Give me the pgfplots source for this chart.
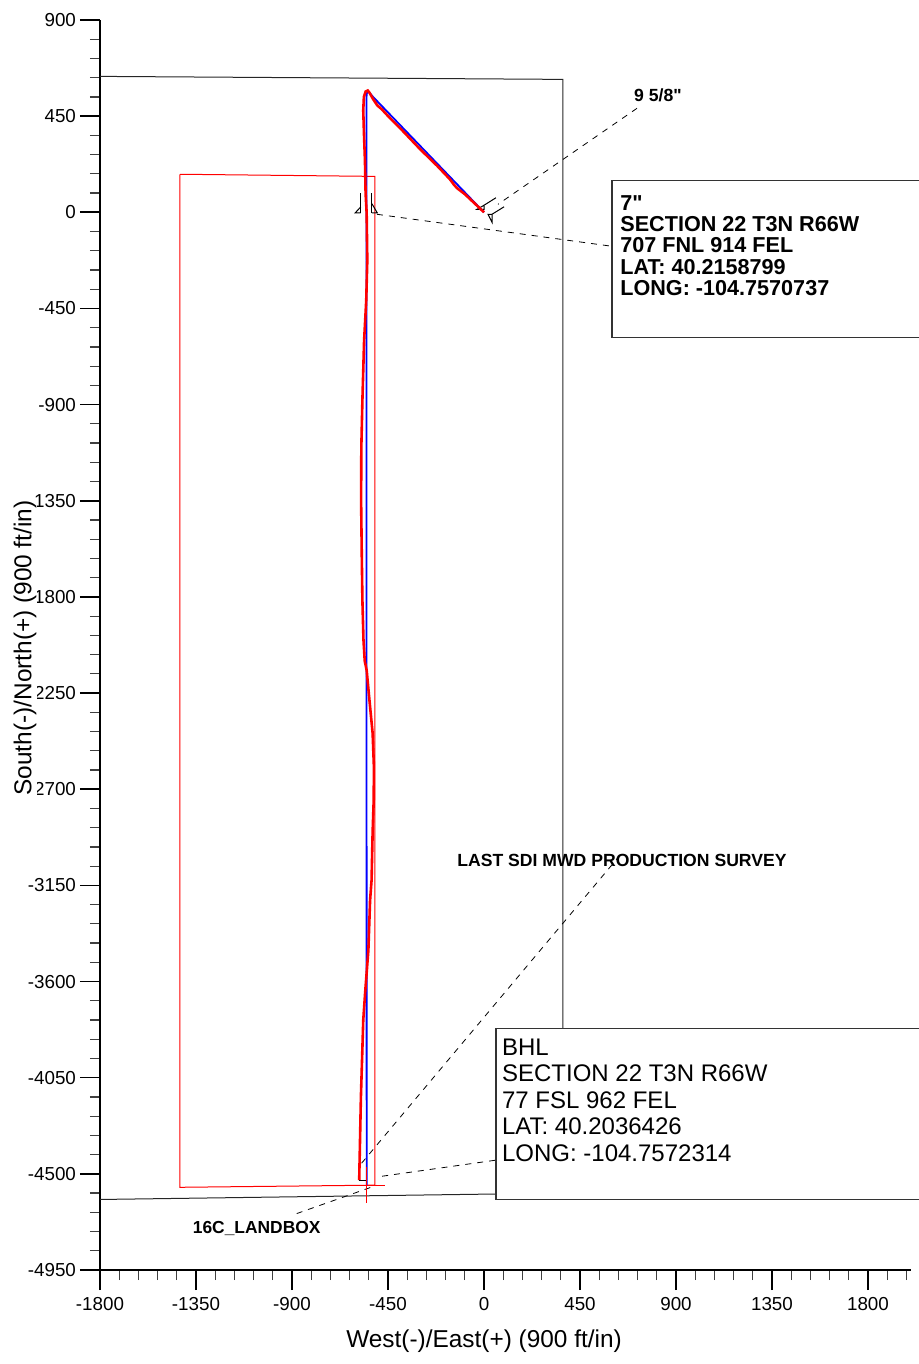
\documentclass[border=0pt]{standalone}
\usepackage{fontspec}
\setmainfont{Liberation Sans}
\usepackage{pgfplots}
\pgfplotsset{compat=1.18}
\newcommand\dq{\XeTeXglyph\numexpr\XeTeXcharglyph"22\relax}
\begin{document}
\begin{tikzpicture}
\useasboundingbox (0,0) rectangle (459.5pt,682pt);
\clip (0,0) rectangle (459.5pt,682pt);
\begin{axis}[
  at={(50pt,47pt)}, anchor=south west,
  scale only axis, width=405.33pt, height=625pt,
  xmin=-1800, xmax=2000, ymin=-4950, ymax=900,
  axis x line=bottom, axis y line=left,
  axis line style={-, line width=1pt, black},
  clip=false,
  xtick={-1800,-1350,-900,-450,0,450,900,1350,1800},
  ytick={900,450,0,-450,-900,-1350,-1800,-2250,-2700,-3150,-3600,-4050,-4500,-4950},
  minor xtick={-1800,-1710,...,1980},
  minor ytick={-4950,-4860,...,900},
  tick align=outside,
  major tick length=10pt, minor tick length=5pt,
  every tick/.style={black, line width=0.8pt},
  minor tick style={black!75, line width=0.6pt},
  tick label style={font=\fontsize{9.4}{11}\selectfont},
  yticklabel style={xshift=1.5pt},
  /pgf/number format/assume math mode=true,
  /pgf/number format/1000 sep={},
  xlabel={West(-)/East(+) (900 ft/in)},
  ylabel={South(-)/North(+) (900 ft/in)},
  label style={font=\fontsize{12.2}{14}\selectfont},
  xlabel style={at={(rel axis cs:0.4737,0)}, anchor=center, yshift=-35.5pt},
  ylabel style={at={(rel axis cs:0,0.4976)}, anchor=center, rotate=0, yshift=37.5pt, xshift=0pt, fill=white, inner sep=0.5pt},
]
% section box (black)
\addplot[black!85, line width=0.5pt] coordinates {(-1800,636) (370,622) (370,-4590) (-1800,-4620)};
% landbox (red)
\addplot[red, line width=0.5pt] coordinates {(-1425,178) (-511,168) (-511,-4553) (-1425,-4563) (-1425,178)};
% leader lines
\addplot[black, dashed, line width=0.4pt] coordinates {(717.2,486.7) (65.6,37.4)};
\addplot[black, dashed, line width=0.4pt] coordinates {(-501.6,-9.4) (600,-159.1)};
\addplot[black, dashed, line width=0.4pt] coordinates {(637.5,-3009) (-585.9,-4464.6)};
\addplot[black, dashed, line width=0.4pt] coordinates {(51.6,-4436.5) (-503,-4514.7)};
\addplot[black, dashed, line width=0.4pt] coordinates {(-878,-4686) (-503,-4553.5)};
% casing symbols 7"
\addplot[black, line width=0.5pt] coordinates {(-578,89) (-578,-3)};
\addplot[black, line width=0.5pt] coordinates {(-578,25) (-604,-3) (-578,-3)};
\addplot[black, line width=0.5pt] coordinates {(-526,89) (-526,-3)};
\addplot[black, line width=0.5pt] coordinates {(-526,41) (-500,-3) (-526,-3)};
% casing symbols 9 5/8"
\addplot[black, line width=0.5pt] coordinates {(0,32.8) (56,68)};
\addplot[black, line width=0.5pt] coordinates {(0,32.8) (-33,14) (0,14) (0,32.8)};
\addplot[black, line width=0.5pt] coordinates {(37.5,-9.4) (94,25.7)};
\addplot[black, line width=0.5pt] coordinates {(37.5,-9.4) (18.8,-9.4) (37.5,-46.8) (37.5,-9.4)};
% plan (blue)
\addplot[blue, line width=0.9pt] coordinates {(0,0) (-520,540) (-535,558) (-545,565) (-550,555) (-551,520) (-550,-4553)};
% actual (red)
\addplot[red, line width=1.3pt] coordinates {
(0,0) (-40,38) (-90,85) (-125,112) (-140,128) (-160,155) (-220,218) (-300,296)
(-380,380) (-440,440) (-480,483) (-500,500) (-520,530) (-537,560) (-545,570)
(-555,565) (-563,540) (-566,477) (-562,350) (-558,243) (-555,89) (-550,-5)
(-547,-225) (-552,-412) (-562,-600) (-570,-880) (-575,-1100) (-576,-1350)
(-573,-1600) (-570,-1815) (-565,-2000) (-559,-2100) (-550,-2143) (-537,-2283)
(-522,-2438) (-516,-2597) (-517,-2751) (-522,-2900) (-527,-3126) (-534,-3220)
(-542,-3454) (-557,-3650) (-566,-3781) (-577,-4141) (-585,-4530)};
\addplot[black, line width=0.5pt] coordinates {(-585,-4530) (-550,-4530)};
% BHL target cross
\addplot[red, line width=0.6pt] coordinates {(-640,-4553) (-464,-4553)};
\addplot[red, line width=0.6pt] coordinates {(-549,-4470) (-549,-4637)};
% annotation boxes
\draw[black!80, line width=0.6pt, fill=white] (600,150) rectangle (2300,-585);
\node[anchor=north west, inner xsep=4pt, inner ysep=7.5pt, align=left,
  font=\fontsize{10.8}{10.6}\selectfont\bfseries] at (600,150)
  {7\dq\\SECTION 22 T3N R66W\\707 FNL 914 FEL\\LAT: 40.2158799\\LONG: -104.7570737};
\draw[black!80, line width=0.6pt, fill=white] (56.25,-3819) rectangle (2300,-4619);
\node[anchor=north west, inner xsep=2.85pt, inner ysep=5pt, align=left,
  font=\fontsize{12}{13.25}\selectfont] at (56.25,-3819)
  {BHL\\SECTION 22 T3N R66W\\77 FSL 962 FEL\\LAT: 40.2036426\\LONG: -104.7572314};
\node[font=\fontsize{8.8}{10}\selectfont\bfseries] at (815.6,547.5) {9 5/8\dq};
\node[font=\fontsize{8.8}{10}\selectfont\bfseries] at (646.9,-3032.6) {LAST SDI MWD PRODUCTION SURVEY};
\node[font=\fontsize{8.7}{10}\selectfont\bfseries] at (-1065.5,-4755) {16C\_LANDBOX};
\end{axis}
\end{tikzpicture}
\end{document}
